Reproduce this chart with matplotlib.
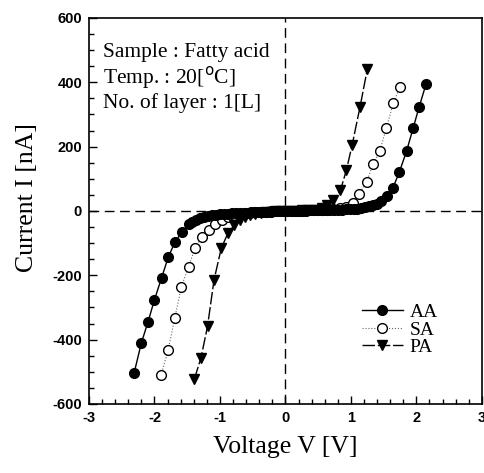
import matplotlib
matplotlib.use('Agg')
import matplotlib.pyplot as plt
from matplotlib.ticker import MultipleLocator

matplotlib.rcParams['axes.unicode_minus'] = False

# I-V data
aa_v = [-2.31, -2.20, -2.10, -2.00, -1.89, -1.79, -1.69, -1.58, -1.48, -1.42,
        -1.36, -1.30, -1.24, -1.18, -1.12, -1.06, -1.00, -0.94, -0.88, -0.82,
        -0.76, -0.70, -0.64, -0.58, -0.52, -0.46, -0.40, -0.34, -0.28, -0.22,
        -0.16, -0.10, -0.04, 0.02, 0.08, 0.14, 0.20, 0.26, 0.32, 0.38,
        0.44, 0.50, 0.56, 0.62, 0.68, 0.74, 0.80, 0.86, 0.92, 0.98,
        1.04, 1.10, 1.16, 1.22, 1.28, 1.34, 1.40, 1.46, 1.55, 1.64,
        1.74, 1.85, 1.95, 2.04, 2.15]
aa_i = [-503, -410, -346, -276, -207, -144, -98, -65, -42, -34,
        -28, -23, -19, -16, -14, -12, -10, -9, -8, -7,
        -6, -6, -5, -5, -4, -4, -3, -3, -2, -2,
        -1, -1, 0, 0, 0, 1, 1, 1, 1, 2,
        2, 2, 2, 3, 3, 3, 4, 4, 5, 5,
        6, 7, 9, 11, 14, 18, 23, 30, 46, 71,
        121, 186, 257, 322, 396]

sa_v = [-1.90, -1.79, -1.69, -1.59, -1.48, -1.38, -1.28, -1.17, -1.07, -0.97,
        -0.87, -0.78, -0.70, -0.62, -0.54, -0.46, -0.38, -0.30, -0.22, -0.14,
        -0.06, 0.02, 0.10, 0.18, 0.26, 0.34, 0.42, 0.50, 0.56, 0.63,
        0.72, 0.83, 0.93, 1.03, 1.13, 1.24, 1.34, 1.44, 1.54, 1.65, 1.75]
sa_i = [-511, -431, -333, -237, -173, -116, -80, -58, -39, -27,
        -20, -13, -9, -7, -5, -4, -3, -2, -1, -1,
        0, 0, 1, 1, 1, 2, 2, 2, 3, 4,
        5, 8, 13, 26, 54, 90, 146, 185, 257, 337, 386]

pa_v = [-1.39, -1.29, -1.19, -1.09, -0.98, -0.88, -0.78, -0.70, -0.62, -0.54,
        -0.46, -0.38, -0.30, -0.22, -0.14, -0.06, 0.02, 0.10, 0.18, 0.26,
        0.34, 0.42, 0.50, 0.56, 0.63, 0.73, 0.84, 0.93, 1.02, 1.14, 1.25]
pa_i = [-522, -457, -359, -214, -116, -70, -44, -28, -18, -12,
        -8, -5, -3, -2, -1, 0, 0, 1, 1, 2,
        2, 3, 4, 8, 18, 33, 64, 126, 206, 324, 440]

serif = 'Liberation Serif'

fig = plt.figure(figsize=(4.85, 4.73), dpi=100)
ax = fig.add_axes([0.1835, 0.146, 0.81, 0.816])

ax.axhline(0, color='k', lw=1, dashes=(7, 4), zorder=1)
ax.axvline(0, color='k', lw=1, dashes=(7, 4), zorder=1)

ax.plot(sa_v, sa_i, color='0.4', ls=':', lw=0.8, marker='o', ms=7,
        mfc='white', mec='k', mew=1.0, label='SA', zorder=2)
ax.plot(aa_v, aa_i, color='k', ls='-', lw=1.0, marker='o', ms=7,
        mfc='k', mec='k', label='AA', zorder=3)
ax.plot(pa_v, pa_i, color='k', ls='--', dashes=(9, 2), lw=1.0, marker='v', ms=7.5,
        mfc='k', mec='k', label='PA', zorder=4)

ax.set_xlim(-3, 3)
ax.set_ylim(-600, 600)
ax.xaxis.set_major_locator(MultipleLocator(1))
ax.xaxis.set_minor_locator(MultipleLocator(0.2))
ax.yaxis.set_major_locator(MultipleLocator(200))
ax.yaxis.set_minor_locator(MultipleLocator(50))
ax.tick_params(which='both', direction='in', top=False, right=False)
ax.tick_params(which='major', length=6, width=1, labelsize=10.5, pad=5)
ax.tick_params(which='minor', length=3.5, width=1)
for lab in ax.get_xticklabels() + ax.get_yticklabels():
    lab.set_fontweight('bold')
    lab.set_family('Liberation Sans')
for sp in ax.spines.values():
    sp.set_linewidth(1.2)

ax.set_xlabel('Voltage V [V]', family=serif, fontsize=18.5, labelpad=8)
ax.set_ylabel('Current I [nA]', family=serif, fontsize=18.5)
ax.yaxis.set_label_coords(-0.13, 0.534)

ax.text(0.035, 0.935, 'Sample : Fatty acid\nTemp. : 20[$^{\\mathrm{o}}$C]\nNo. of layer : 1[L]',
        transform=ax.transAxes, family=serif, fontsize=15.5, va='top', ha='left',
        linespacing=1.12)

h, l = ax.get_legend_handles_labels()
order = [1, 0, 2]
ax.legend([h[k] for k in order], [l[k] for k in order], loc='center left',
          bbox_to_anchor=(0.65, 0.192), frameon=False, handlelength=2.1,
          handletextpad=0.35, labelspacing=0.0, prop={'family': serif, 'size': 14})

fig.savefig('out.png', dpi=100)
